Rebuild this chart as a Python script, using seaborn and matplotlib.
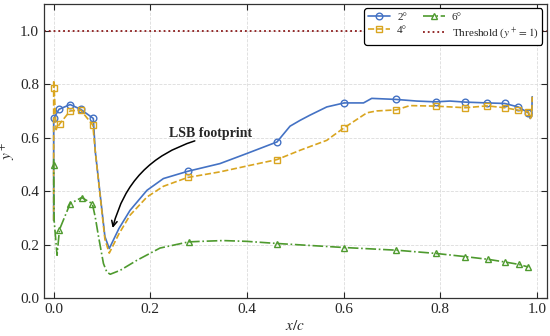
import numpy as np
import pandas as pd
import matplotlib
matplotlib.use('Agg')
import matplotlib.pyplot as plt
import seaborn as sns

# 2 deg
x_2deg = [0.0, 0.0, 0.011, 0.034, 0.056, 0.082, 0.086, 0.106, 0.115, 0.135, 0.158, 0.193, 0.227,
          0.277, 0.344, 0.40, 0.462, 0.489, 0.51, 0.53, 0.565, 0.601, 0.641, 0.658, 0.709, 0.751,
          0.79, 0.82, 0.852, 0.897, 0.933, 0.961, 0.982, 0.986, 0.989, 0.990]
y_2deg = [0.29, 0.672, 0.706, 0.724, 0.706, 0.672, 0.55, 0.23, 0.185, 0.26, 0.328, 0.403, 0.447,
          0.474, 0.503, 0.541, 0.584, 0.643, 0.665, 0.684, 0.715, 0.730, 0.730, 0.747, 0.743, 0.737,
          0.734, 0.737, 0.733, 0.730, 0.728, 0.715, 0.693, 0.672, 0.68, 0.753]
marks_2deg = [1, 2, 3, 4, 5, 13, 16, 21, 24, 26, 28, 29, 30, 31, 32]

# 4 deg
x_4deg = [0.0, 0.0, 0.001, 0.005, 0.013, 0.034, 0.056, 0.081, 0.086, 0.106, 0.115, 0.135, 0.158,
          0.193, 0.227, 0.277, 0.344, 0.40, 0.462, 0.51, 0.565, 0.58, 0.601, 0.648, 0.668, 0.709,
          0.737, 0.79, 0.852, 0.897, 0.933, 0.961, 0.982, 0.986, 0.989, 0.990]
y_4deg = [0.29, 0.815, 0.785, 0.63, 0.653, 0.70, 0.703, 0.647, 0.55, 0.22, 0.168, 0.24, 0.31,
          0.378, 0.418, 0.451, 0.472, 0.494, 0.518, 0.553, 0.59, 0.61, 0.637, 0.693, 0.70, 0.704,
          0.72, 0.718, 0.712, 0.719, 0.712, 0.703, 0.697, 0.672, 0.68, 0.753]
marks_4deg = [2, 4, 5, 6, 7, 15, 18, 22, 25, 27, 28, 29, 30, 31, 32]

# 6 deg
x_6deg = [0.0, 0.0, 0.001, 0.007, 0.012, 0.034, 0.058, 0.080, 0.086, 0.093, 0.103, 0.11, 0.117,
          0.138, 0.172, 0.22, 0.279, 0.304, 0.35, 0.40, 0.463, 0.601, 0.709, 0.79, 0.851, 0.898,
          0.933, 0.962, 0.982]
y_6deg = [0.52, 0.497, 0.29, 0.16, 0.256, 0.353, 0.376, 0.353, 0.303, 0.228, 0.129, 0.097, 0.089,
          0.104, 0.141, 0.187, 0.21, 0.212, 0.215, 0.212, 0.204, 0.189, 0.179, 0.167, 0.155, 0.145,
          0.135, 0.126, 0.116]
marks_6deg = [1, 4, 5, 6, 7, 16, 20, 21, 22, 23, 24, 25, 26, 27, 28]

threshold = 1.0

sns.set_style('ticks')
plt.rcParams['font.family'] = ['Liberation Serif', 'DejaVu Serif']
plt.rcParams['mathtext.fontset'] = 'stix'

fig = plt.figure(figsize=(5.5, 3.36), dpi=100)
ax = fig.add_axes([0.08, 0.113, 0.914, 0.875])

series = [
    ('2°', x_2deg, y_2deg, marks_2deg, '#4472c4', '-', 'o'),
    ('4°', x_4deg, y_4deg, marks_4deg, '#d9a520', '--', 's'),
    ('6°', x_6deg, y_6deg, marks_6deg, '#4e9a2e', '-.', '^'),
]
for name, xs, ys, marks, col, ls, mk in series:
    df = pd.DataFrame({'x': xs, 'y': ys})
    sns.lineplot(data=df, x='x', y='y', ax=ax, estimator=None, sort=False,
                 color=col, linestyle=ls, linewidth=1.2, marker=mk, markevery=marks,
                 markersize=4.8, markerfacecolor='none', markeredgecolor=col,
                 markeredgewidth=1.0, label=name)

ax.axhline(threshold, color='#8b1a1a', linestyle=':', linewidth=1.3,
           label='Threshold ($y^+=1$)')

ax.text(0.324, 0.617, 'LSB footprint', ha='center', va='center',
        fontsize=10, fontweight='bold')
ax.annotate('', xy=(0.122, 0.262), xytext=(0.292, 0.588),
            arrowprops=dict(arrowstyle='->', color='black', lw=1.1,
                            connectionstyle='arc3,rad=0.28', shrinkA=0, shrinkB=0))

ax.set_xlim(-0.02, 1.02)
ax.set_ylim(0, 1.1)
ax.set_xticks([0.0, 0.2, 0.4, 0.6, 0.8, 1.0])
ax.set_yticks([0.0, 0.2, 0.4, 0.6, 0.8, 1.0])
ax.set_xlabel('$x/c$', fontsize=11, labelpad=2)
ax.set_ylabel('$y^+$', fontsize=11, labelpad=2)
ax.tick_params(direction='in', top=True, right=True, labelsize=11, length=4, width=0.8)
ax.grid(True, linestyle='--', color='#dcdcdc', linewidth=0.6)
for sp in ax.spines.values():
    sp.set_color('#333333')
    sp.set_linewidth(0.9)

leg = ax.legend(ncol=2, loc='upper right', fontsize=8, frameon=True, fancybox=True,
                edgecolor='black', framealpha=1, borderaxespad=0.4, handlelength=2.0,
                handletextpad=0.6, columnspacing=1.4, labelspacing=0.25, borderpad=0.35)
leg.get_frame().set_linewidth(0.9)

fig.savefig('out.png', dpi=100)
